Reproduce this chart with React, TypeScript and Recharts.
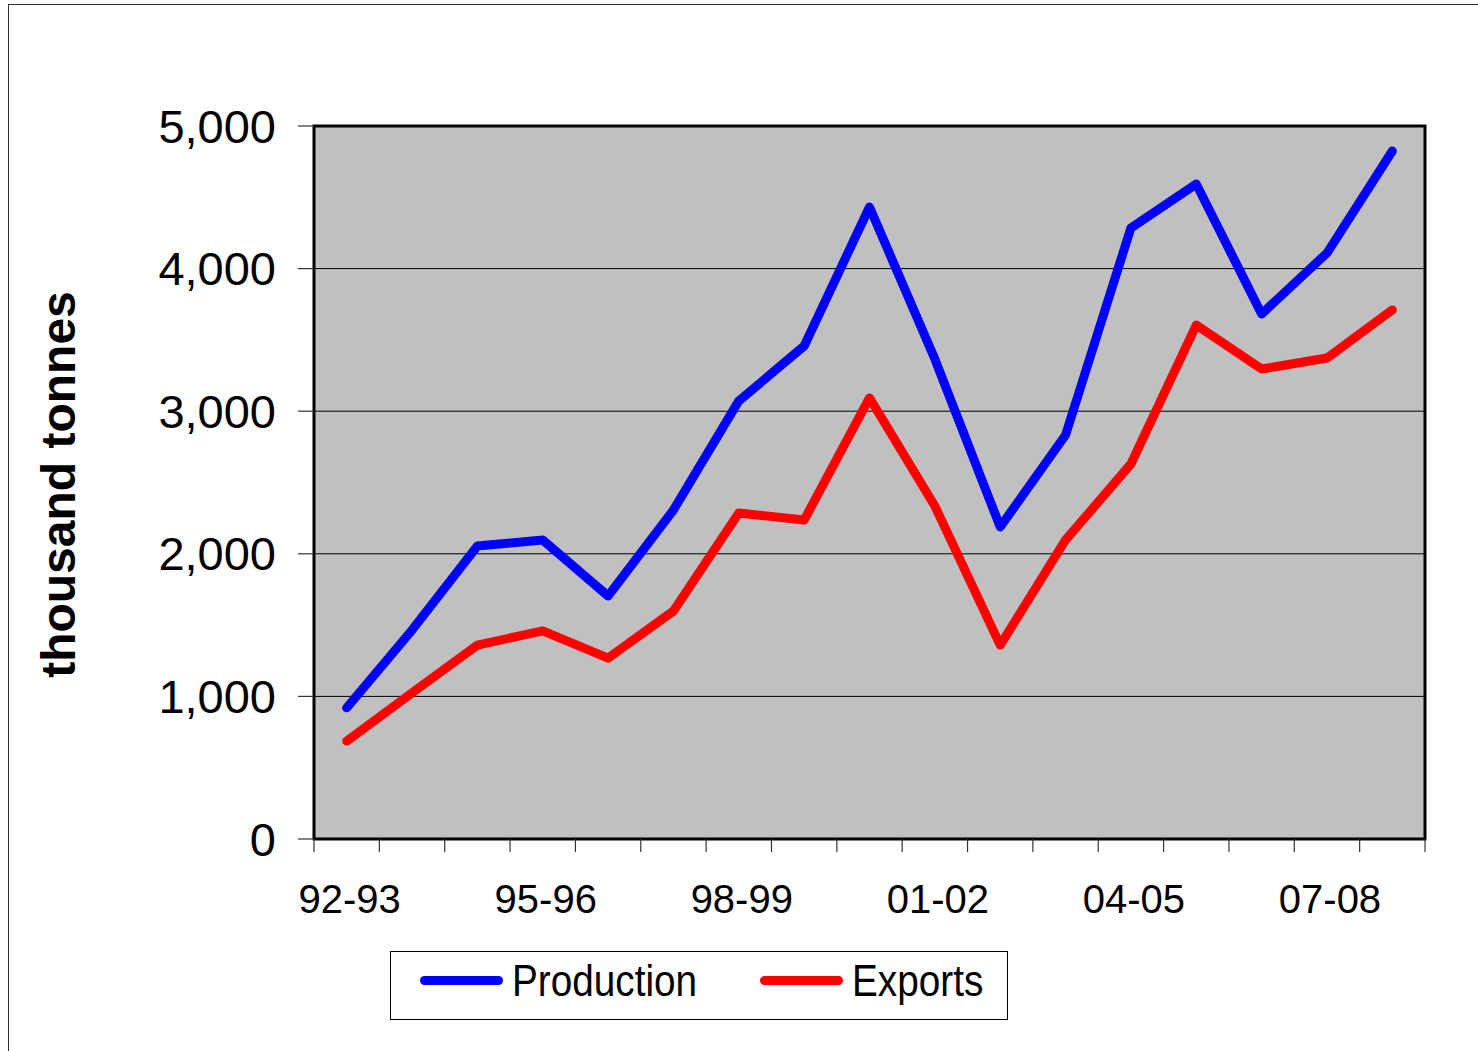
import {
  CartesianGrid,
  Legend,
  Line,
  LineChart,
  ReferenceArea,
  XAxis,
  YAxis,
} from 'recharts';

const seasons = [
  '92-93', '93-94', '94-95', '95-96', '96-97', '97-98', '98-99', '99-00', '00-01',
  '01-02', '02-03', '03-04', '04-05', '05-06', '06-07', '07-08', '08-09',
];
const production = [
  920, 1465, 2055, 2097, 1704, 2307, 3072, 3457, 4432, 3366, 2188, 2833, 4285, 4593, 3682, 4109,
  4825,
];
const exports = [
  687, 1024, 1360, 1459, 1269, 1599, 2286, 2237, 3093, 2335, 1360, 2097, 2630, 3604, 3296, 3373,
  3710,
];
const yTicks = [0, 1000, 2000, 3000, 4000, 5000];
const labelEvery = 3;

const data = seasons.map((season, i) => ({
  idx: i,
  season,
  production: production[i],
  exports: exports[i],
}));

// tick marks sit on the category boundaries, labels on the category centres
const xTicks = seasons.flatMap((_, i) => [i - 0.5, i]).concat(seasons.length - 0.5);

const FONT = '"Liberation Sans", Arial, sans-serif';

function XTick(props: any) {
  const { x, y, payload } = props;
  const v = payload.value as number;
  if (!Number.isInteger(v)) {
    return <line x1={x} y1={y} x2={x} y2={y + 13} stroke="#333" strokeWidth={1.2} />;
  }
  if (v % labelEvery !== 0) return <g />;
  return (
    <text x={x + 3} y={y + 46} dy="0.71em" textAnchor="middle" fontSize={40} fontFamily={FONT} fill="#000">
      {seasons[v]}
    </text>
  );
}

function YTitle(props: any) {
  const { viewBox } = props;
  const cy = viewBox.y + viewBox.height / 2 + 2;
  return (
    <text
      x={75}
      y={cy}
      transform={`rotate(-90 75 ${cy})`}
      textAnchor="middle"
      fontSize={48}
      fontWeight="bold"
      fontFamily={FONT}
      fill="#000"
    >
      thousand tonnes
    </text>
  );
}

function LegendBox() {
  const item = (color: string, text: string) => (
    <div style={{ display: 'flex', alignItems: 'center' }}>
      <div style={{ width: 83, height: 9, borderRadius: 5, background: color, marginRight: 9 }} />
      <span
        style={{
          fontSize: 44,
          fontFamily: FONT,
          display: 'inline-block',
          transform: 'scaleX(0.88)',
          transformOrigin: 'left center',
          lineHeight: 1,
        }}
      >
        {text}
      </span>
    </div>
  );
  return (
    <div
      style={{
        boxSizing: 'border-box',
        width: 618,
        height: 69,
        border: '1px solid #000',
        background: '#fff',
        display: 'flex',
        alignItems: 'center',
        paddingLeft: 29,
        paddingBottom: 10,
      }}
    >
      <div style={{ width: 340 }}>{item('#0000FF', 'Production')}</div>
      {item('#FF0000', 'Exports')}
    </div>
  );
}

export default function App() {
  return (
    <div
      style={{
        position: 'fixed',
        left: 0,
        top: 0,
        width: 1478,
        height: 1051,
        background: '#fff',
        overflow: 'hidden',
      }}
    >
      <div
        style={{
          position: 'absolute',
          left: 8,
          top: 4,
          width: 1600,
          height: 1200,
          borderLeft: '1.5px solid #333',
          borderTop: '1.5px solid #333',
        }}
      />
      <div style={{ position: 'absolute', left: 0, top: 0 }}>
        <LineChart
          width={1478}
          height={1051}
          data={data}
          margin={{ top: 126, right: 53, left: 114, bottom: 112 }}
        >
          <CartesianGrid
            vertical={false}
            stroke="#000"
            strokeWidth={1}
            fill="#C0C0C0"
            fillOpacity={1}
          />
          <XAxis
            dataKey="idx"
            type="number"
            domain={[-0.5, seasons.length - 0.5]}
            ticks={xTicks}
            interval={0}
            allowDecimals
            allowDataOverflow
            height={100}
            tickSize={0}
            tickMargin={0}
            tickLine={false}
            axisLine={false}
            tick={<XTick />}
          />
          <YAxis
            type="number"
            domain={[0, 5000]}
            ticks={yTicks}
            interval={0}
            width={200}
            tickSize={16}
            tickMargin={22}
            tickLine={{ stroke: '#333', strokeWidth: 1.2 }}
            axisLine={false}
            tick={{ fill: '#000', fontSize: 47, fontFamily: FONT }}
            tickFormatter={(v: number) => v.toLocaleString('en-US')}
            label={<YTitle />}
          />
          <ReferenceArea
            x1={-0.5}
            x2={seasons.length - 0.5}
            y1={0}
            y2={5000}
            fill="none"
            fillOpacity={0}
            stroke="#000"
            strokeWidth={3}
          />
          <Line
            type="linear"
            dataKey="production"
            name="Production"
            stroke="#0000FF"
            strokeWidth={9}
            strokeLinecap="round"
            strokeLinejoin="round"
            dot={false}
            activeDot={false}
            isAnimationActive={false}
          />
          <Line
            type="linear"
            dataKey="exports"
            name="Exports"
            stroke="#FF0000"
            strokeWidth={9}
            strokeLinecap="round"
            strokeLinejoin="round"
            dot={false}
            activeDot={false}
            isAnimationActive={false}
          />
          <Legend
            layout="horizontal"
            verticalAlign="middle"
            content={<LegendBox />}
            wrapperStyle={{ position: 'absolute', left: 390, top: 951, width: 618, height: 69 }}
          />
        </LineChart>
      </div>
    </div>
  );
}
